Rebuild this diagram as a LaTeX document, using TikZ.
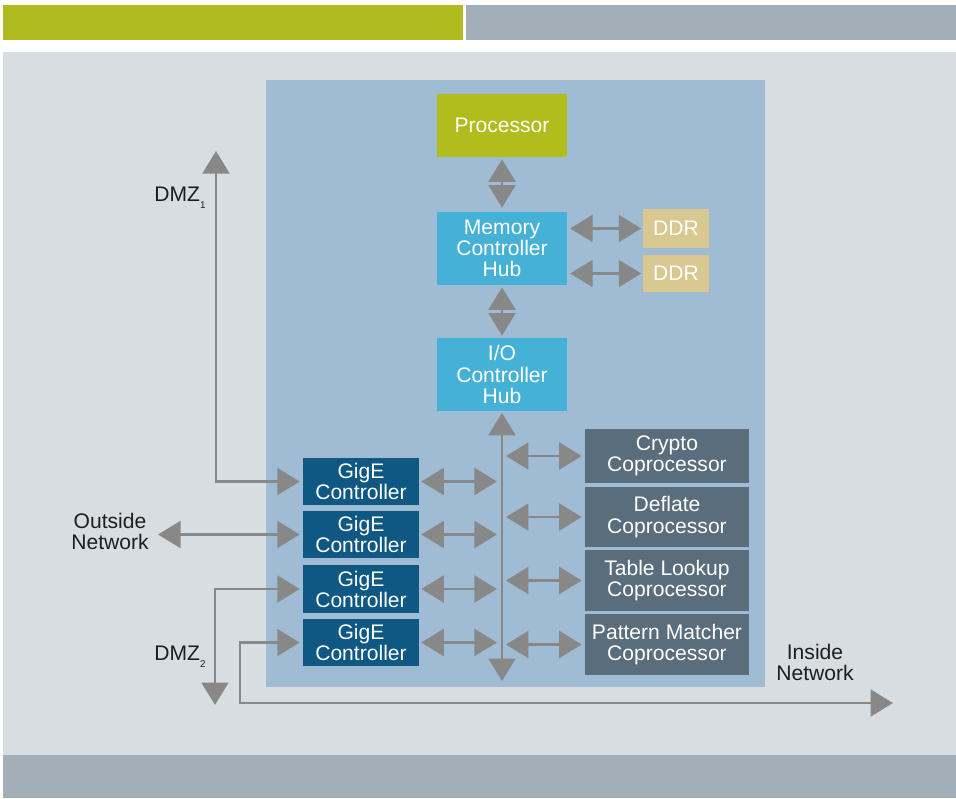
\documentclass[tikz,border=0pt]{standalone}
\usepackage{fontspec}
\setmainfont{Liberation Sans}
\usetikzlibrary{arrows.meta}
\definecolor{mybandgreen}{HTML}{AFBB1F}
\definecolor{mybandgray}{HTML}{A3AFB8}
\definecolor{mybgcolor}{HTML}{D8DDE1}
\definecolor{mypanelcolor}{HTML}{A0BBD4}
\definecolor{myproccolor}{HTML}{B0BD1D}
\definecolor{myhubcolor}{HTML}{45B1D6}
\definecolor{myddrcolor}{HTML}{D9C88F}
\definecolor{mygigecolor}{HTML}{0E5883}
\definecolor{mycopcolor}{HTML}{5A6D7D}
\definecolor{myarrowcolor}{HTML}{888888}
\definecolor{mylabelcolor}{HTML}{1E1E1E}
\newcommand{\dmzsub}[1]{\raisebox{-5pt}{\fontsize{7pt}{7pt}\selectfont #1}}
\tikzset{
  box/.style={fill=#1, rectangle, inner sep=0pt, text=white, align=center, font=\fontsize{15pt}{15pt}\selectfont},
  txt/.style={inner sep=0pt, text=mylabelcolor, align=center, font=\fontsize{15pt}{15pt}\selectfont},
  link/.style={draw=myarrowcolor, line width=2.1pt, {Triangle[length=16pt,width=19pt]}-{Triangle[length=16pt,width=19pt]}}
}

\begin{document}
\begin{tikzpicture}[x=0.025cm, y=-0.025cm]%
% frame
\fill[white] (0,0) rectangle (956,798);%
\fill[mybandgreen] (3,5) rectangle (463,40);%
\fill[mybandgray] (466,5) rectangle (956,40);%
\fill[mybgcolor] (3,52) rectangle (956,755);%
\fill[mybandgray] (3,755) rectangle (956,798);%
\fill[mypanelcolor] (266,80) rectangle (765,687);%
% blocks
\node[box=myproccolor, minimum width=3.25cm, minimum height=1.58cm] (proc) at (502, 125.5) {Processor};%
\node[box=myhubcolor, minimum width=3.25cm, minimum height=1.83cm] (mch) at (502, 248.5) {Memory\\Controller\\Hub};%
\node[box=myhubcolor, minimum width=3.25cm, minimum height=1.83cm] (ioh) at (502, 374.5) {I/O\\Controller\\Hub};%
\node[box=myddrcolor, minimum width=1.65cm, minimum height=0.96cm] (ddr1) at (676, 228.5) {DDR};%
\node[box=myddrcolor, minimum width=1.65cm, minimum height=0.94cm] (ddr2) at (676, 273.5) {DDR};%
\node[box=mygigecolor, minimum width=2.9cm, minimum height=1.18cm] (gige1) at (361, 481.5) {GigE\\Controller};%
\node[box=mygigecolor, minimum width=2.9cm, minimum height=1.18cm] (gige2) at (361, 534.5) {GigE\\Controller};%
\node[box=mygigecolor, minimum width=2.9cm, minimum height=1.18cm] (gige3) at (361, 589) {GigE\\Controller};%
\node[box=mygigecolor, minimum width=2.9cm, minimum height=1.18cm] (gige4) at (361, 642.5) {GigE\\Controller};%
\node[box=mycopcolor, minimum width=4.1cm, minimum height=1.35cm] (crypto) at (667, 456) {Crypto\\Coprocessor};%
\node[box=mycopcolor, minimum width=4.1cm, minimum height=1.5cm] (deflate) at (667, 517) {Deflate\\Coprocessor};%
\node[box=mycopcolor, minimum width=4.1cm, minimum height=1.53cm] (lookup) at (667, 580.5) {Table Lookup\\Coprocessor};%
\node[box=mycopcolor, minimum width=4.1cm, minimum height=1.53cm] (matcher) at (667, 644.5) {Pattern Matcher\\Coprocessor};%
% labels
\node[txt] (dmz1lbl) at (180, 198) {DMZ\dmzsub{1}};%
\node[txt] (outlbl) at (110, 531) {Outside\\Network};%
\node[txt] (dmz2lbl) at (180, 657) {DMZ\dmzsub{2}};%
\node[txt] (inlbl) at (815, 662) {Inside\\Network};%
% end points
\coordinate (busend) at (502, 681);%
\coordinate (dmz1) at (216, 151);%
\coordinate (outnet) at (158, 534.5);%
\coordinate (dmz2) at (215, 705);%
\coordinate (inturn) at (240, 703);%
\coordinate (innet) at (893, 703);%
% hub links
\draw[link, shorten <=1.4pt, shorten >=2.8pt] (proc.south) -- (mch.north);%
\draw[link, shorten <=1.4pt, shorten >=1.4pt] (mch.south) -- (ioh.north);%
\draw[link, shorten <=2pt, shorten >=1pt] (mch.east |- ddr1) -- (ddr1.west);%
\draw[link, shorten <=2pt, shorten >=1pt] (mch.east |- ddr2) -- (ddr2.west);%
\draw[link, shorten <=1pt] (ioh.south) -- (busend);%
% bus links
\draw[link, shorten <=1.4pt, shorten >=3.6pt] (gige1.east) -- (gige1.east -| busend);%
\draw[link, shorten <=1.4pt, shorten >=3.6pt] (gige2.east) -- (gige2.east -| busend);%
\draw[link, shorten <=1.4pt, shorten >=3.6pt] (gige3.east) -- (gige3.east -| busend);%
\draw[link, shorten <=1.4pt, shorten >=3.6pt] (gige4.east) -- (gige4.east -| busend);%
\draw[link, shorten <=2.8pt, shorten >=2.1pt] (crypto.west -| busend) -- (crypto.west);%
\draw[link, shorten <=2.8pt, shorten >=2.1pt] (deflate.west -| busend) -- (deflate.west);%
\draw[link, shorten <=2.8pt, shorten >=2.1pt] (lookup.west -| busend) -- (lookup.west);%
\draw[link, shorten <=2.8pt, shorten >=2.1pt] (matcher.west -| busend) -- (matcher.west);%
% network links
\draw[link, shorten <=2.1pt] (gige1.west) -| (dmz1);%
\draw[link, shorten >=2.1pt] (outnet) -- (gige2.west);%
\draw[link, shorten <=2.1pt] (gige3.west) -| (dmz2);%
\draw[link, shorten <=2.1pt] (gige4.west) -| (inturn) -- (innet);%
\end{tikzpicture}
\end{document}
